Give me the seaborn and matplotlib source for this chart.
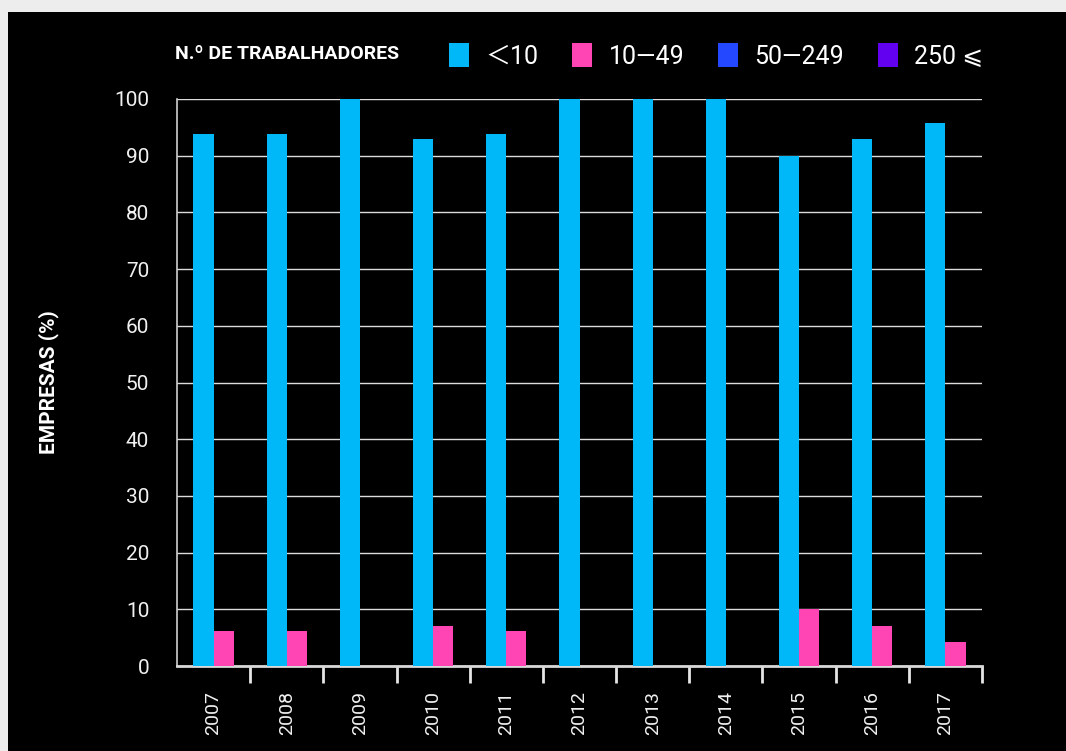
import numpy as np
import pandas as pd
import matplotlib.pyplot as plt
import seaborn as sb
from matplotlib.patches import Rectangle, Patch

anos = ['2007', '2008', '2009', '2010', '2011', '2012', '2013', '2014', '2015', '2016', '2017']
menos_10 = [93.8, 93.8, 100, 92.9, 93.8, 100, 100, 100, 90.0, 92.9, 95.8]
de_10_49 = [6.2, 6.2, 0, 7.1, 6.2, 0, 0, 0, 10.0, 7.1, 4.2]
classes = ['＜10', '10—49', '50—249', '250 ⩽']
cores = ['#00b7f7', '#ff45b4', '#2448ff', '#6200f0']

df = pd.DataFrame({'ano': anos * 2,
                   'valor': menos_10 + de_10_49,
                   'classe': [classes[0]] * len(anos) + [classes[1]] * len(anos)})

sb.set_style('dark')
fonte = ['Roboto', 'DejaVu Sans', 'Noto Sans CJK JP']
plt.rcParams['font.family'] = fonte

fig = plt.figure(figsize=(10.66, 7.51), dpi=100, facecolor='#ededed')
fundo = Rectangle((8 / 1066, 0), 1, 1 - 12 / 751, transform=fig.transFigure,
                  facecolor='black', edgecolor='none', zorder=-10)
fig.patches.append(fundo)
ax = fig.add_axes([177 / 1066, 1 - 666 / 751, 805 / 1066, 567 / 751])
ax.set_facecolor('black')

sb.barplot(data=df, x='ano', y='valor', hue='classe', hue_order=classes[:2],
           palette=cores[:2], width=0.55, saturation=1, linewidth=0,
           legend=False, ax=ax, zorder=3)

ax.set_ylim(0, 100)
ax.set_xlim(-0.5, len(anos) - 0.5)
ax.set_yticks(range(0, 101, 10))
ax.grid(axis='y', color='#dcdcdc', linewidth=1, zorder=1)
ax.grid(axis='x', visible=False)
for s in ['top', 'right']:
    ax.spines[s].set_visible(False)
ax.spines['left'].set_color('#cfcfcf')
ax.spines['left'].set_linewidth(1.2)
ax.spines['bottom'].set_color('#d8d8d8')
ax.spines['bottom'].set_linewidth(2)

ax.tick_params(axis='y', length=0, pad=20, labelsize=15, labelcolor='#f0f0f0')
ax.tick_params(axis='x', which='major', length=0, pad=18, labelsize=14,
               labelcolor='#f0f0f0', labelrotation=90)
ax.set_xticks(np.arange(0.5, len(anos), 1), minor=True)
ax.tick_params(axis='x', which='minor', bottom=True, length=12, width=2,
               color='#e6e6e6', direction='out')

ax.set_xlabel('')
ax.set_ylabel('EMPRESAS (%)', color='white', fontsize=15, fontweight='bold', labelpad=40)

fig.text(175 / 1066, 1 - 54 / 751, 'N.º DE TRABALHADORES', color='white', fontsize=14,
         fontweight='bold', va='center', ha='left')
handles = [Patch(facecolor=c, edgecolor='none', label=l) for c, l in zip(cores, classes)]
leg = fig.legend(handles=handles, ncol=4, loc='center right',
                 bbox_to_anchor=(983 / 1066, 1 - 56 / 751), frameon=False,
                 handlelength=0.8, handleheight=1.1, handletextpad=0.65,
                 columnspacing=1.35, fontsize=18, labelcolor='white',
                 borderaxespad=0, borderpad=0)

plt.savefig('out.png', dpi=100, facecolor=fig.get_facecolor())
